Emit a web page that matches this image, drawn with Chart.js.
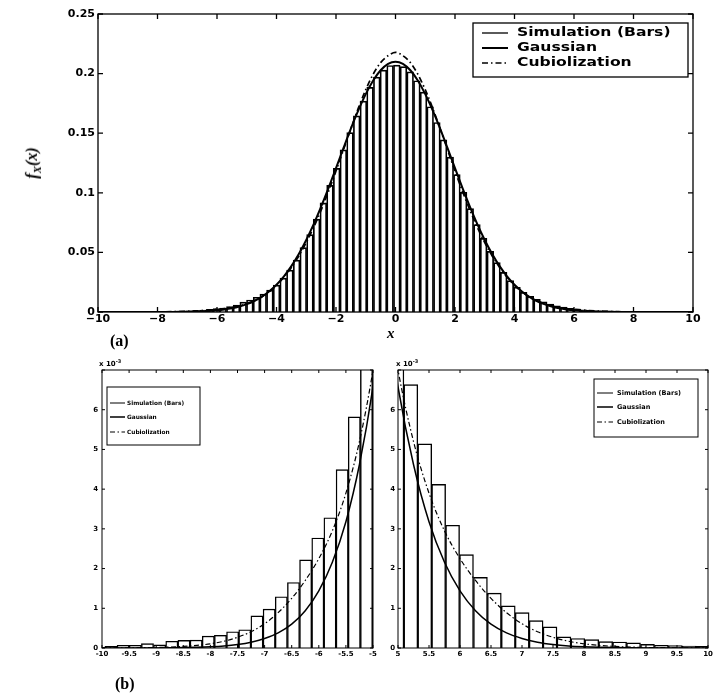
<!DOCTYPE html>
<html>
<head>
<meta charset="utf-8">
<script src="https://cdn.jsdelivr.net/npm/chart.js@4.4.0/dist/chart.umd.min.js"></script>
<style>
  body { margin: 0; background: #fff; width: 717px; height: 695px; overflow: hidden; position: relative; }
  canvas { position: absolute; }
  .lbl { position: absolute; color: #000; white-space: nowrap; line-height: 1; }
</style>
</head>
<body>
<canvas id="full" width="717" height="335" style="left:0;top:0"></canvas>
<canvas id="tailLeft" width="345" height="315" style="left:40px;top:355px"></canvas>
<canvas id="tailRight" width="337" height="315" style="left:380px;top:355px"></canvas>

<div class="lbl" style="left:33px;top:163px;transform:translate(-50%,-50%) rotate(-90deg);font:italic bold 16px 'Liberation Serif'">f<sub style="font-size:11px">X</sub>(x)</div>
<div class="lbl" style="left:387px;top:325px;font:italic bold 15px 'Liberation Serif'">x</div>
<div class="lbl" style="left:110px;top:332px;font:bold 16px 'Liberation Serif'">(a)</div>
<div class="lbl" style="left:115px;top:675px;font:bold 16px 'Liberation Serif'">(b)</div>
<div class="lbl" style="left:99px;top:358px;font:bold 7px 'DejaVu Sans'">x 10<sup style="font-size:5px">-3</sup></div>
<div class="lbl" style="left:396px;top:358px;font:bold 7px 'DejaVu Sans'">x 10<sup style="font-size:5px">-3</sup></div>

<script>
// Du lieu -------------------------------------------------------------
// tam cac cot histogram (mo phong)
const binCenters = [
  -9.835, -9.610, -9.386, -9.161, -8.937, -8.712, -8.488, -8.263, -8.039, -7.814,
  -7.590, -7.365, -7.141, -6.916, -6.692, -6.467, -6.243, -6.018, -5.794, -5.569,
  -5.345, -5.120, -4.896, -4.671, -4.447, -4.222, -3.998, -3.773, -3.549, -3.324,
  -3.100, -2.875, -2.651, -2.426, -2.202, -1.977, -1.753, -1.528, -1.304, -1.079,
  -0.855, -0.630, -0.406, -0.181, 0.044, 0.268, 0.493, 0.717, 0.942, 1.166,
  1.391, 1.615, 1.840, 2.064, 2.289, 2.513, 2.738, 2.962, 3.187, 3.411,
  3.636, 3.860, 4.085, 4.309, 4.534, 4.758, 4.983, 5.207, 5.432, 5.656,
  5.881, 6.105, 6.330, 6.554, 6.779, 7.003, 7.228, 7.452, 7.677, 7.901,
  8.126, 8.350, 8.575, 8.799, 9.024, 9.248, 9.473, 9.697, 9.922
];
// chieu cao cac cot
const simBars = [
  0.00004, 0.00007, 0.00007, 0.00011, 0.00008, 0.00017, 0.00019, 0.00020, 0.00030, 0.00032,
  0.00041, 0.00046, 0.00081, 0.00098, 0.00129, 0.00165, 0.00222, 0.00277, 0.00328, 0.00449,
  0.00582, 0.0083, 0.0101, 0.0124, 0.0150, 0.0184, 0.0226, 0.0284, 0.0352, 0.0436,
  0.0540, 0.0650, 0.0780, 0.0915, 0.1062, 0.1205, 0.1360, 0.1505, 0.1645, 0.1770,
  0.1885, 0.1970, 0.2030, 0.2068, 0.2072, 0.2058, 0.2015, 0.1940, 0.1845, 0.1722,
  0.1590, 0.1445, 0.1300, 0.1153, 0.1004, 0.0868, 0.0734, 0.0618, 0.0508, 0.0414,
  0.0332, 0.0264, 0.0208, 0.0165, 0.0132, 0.0106, 0.0086, 0.00663, 0.00514, 0.00412,
  0.00309, 0.00235, 0.00178, 0.00138, 0.00106, 0.00089, 0.00069, 0.00053, 0.00028, 0.00024,
  0.00021, 0.00016, 0.00015, 0.00013, 0.00009, 0.00007, 0.00006, 0.00005, 0.00004
];
// luoi x cho hai duong cong
const curveX = [
  -10, -9.75, -9.5, -9.25, -9, -8.75, -8.5, -8.25, -8, -7.75,
  -7.5, -7.25, -7, -6.75, -6.5, -6.25, -6, -5.75, -5.5, -5.25,
  -5, -4.75, -4.5, -4.25, -4, -3.75, -3.5, -3.25, -3, -2.75,
  -2.5, -2.25, -2, -1.75, -1.5, -1.25, -1, -0.75, -0.5, -0.25,
  0,
  0.25, 0.5, 0.75, 1, 1.25, 1.5, 1.75, 2, 2.25, 2.5,
  2.75, 3, 3.25, 3.5, 3.75, 4, 4.25, 4.5, 4.75, 5,
  5.25, 5.5, 5.75, 6, 6.25, 6.5, 6.75, 7, 7.25, 7.5,
  7.75, 8, 8.25, 8.5, 8.75, 9, 9.25, 9.5, 9.75, 10
];
const gaussY = [
  0.0000002, 0.0000004, 0.0000008, 0.0000015, 0.0000028, 0.000005, 0.0000095, 0.000017, 0.00003, 0.000051,
  0.000087, 0.000145, 0.00024, 0.00038, 0.0006, 0.00094, 0.00144, 0.00216, 0.00318, 0.00462,
  0.00658, 0.00923, 0.01271, 0.01721, 0.0229, 0.02995, 0.0385, 0.0486, 0.0604, 0.0737,
  0.0884, 0.1041, 0.1207, 0.1374, 0.1538, 0.1691, 0.1828, 0.1942, 0.2028, 0.2082,
  0.2100,
  0.2082, 0.2028, 0.1942, 0.1828, 0.1691, 0.1538, 0.1374, 0.1207, 0.1041, 0.0884,
  0.0737, 0.0604, 0.0486, 0.0385, 0.02995, 0.0229, 0.01721, 0.01271, 0.00923, 0.00658,
  0.00462, 0.00318, 0.00216, 0.00144, 0.00094, 0.0006, 0.00038, 0.00024, 0.000145, 0.000087,
  0.000051, 0.00003, 0.000017, 0.0000095, 0.000005, 0.0000028, 0.0000015, 0.0000008, 0.0000004, 0.0000002
];
const cubY = [
  0.0000015, 0.000003, 0.000005, 0.000009, 0.000014, 0.000024, 0.00004, 0.000065, 0.000105, 0.00017,
  0.00027, 0.00041, 0.00061, 0.00089, 0.00125, 0.0017, 0.00225, 0.00295, 0.0039, 0.0052,
  0.0070, 0.0094, 0.0126, 0.0169, 0.0224, 0.0292, 0.0374, 0.0470, 0.0582, 0.0710,
  0.0855, 0.1013, 0.1183, 0.1360, 0.1538, 0.1710, 0.1865, 0.1995, 0.2092, 0.2150,
  0.2178,
  0.2150, 0.2092, 0.1995, 0.1865, 0.1710, 0.1538, 0.1360, 0.1183, 0.1013, 0.0855,
  0.0710, 0.0582, 0.0470, 0.0374, 0.0292, 0.0224, 0.0169, 0.0126, 0.0094, 0.0070,
  0.0052, 0.0039, 0.00295, 0.00225, 0.0017, 0.00125, 0.00089, 0.00061, 0.00041, 0.00027,
  0.00017, 0.000105, 0.000065, 0.00004, 0.000024, 0.000014, 0.000009, 0.000005, 0.000003, 0.0000015
];
const legendLabels = ['Simulation (Bars)', 'Gaussian', 'Cubiolization'];

function toPoints(xs, ys) {
  return xs.map((x, i) => ({ x: x, y: ys[i] }));
}

// Khung + vach chia huong vao trong (kieu MATLAB)
const framePlugin = {
  id: 'frame',
  afterDatasetsDraw(chart, args, opts) {
    const { ctx, chartArea: a } = chart;
    const xs = chart.scales.x, ys = chart.scales.y;
    const len = opts.tickLen;
    ctx.save();
    ctx.strokeStyle = '#000';
    ctx.lineWidth = opts.lineWidth;
    ctx.strokeRect(a.left, a.top, a.right - a.left, a.bottom - a.top);
    ctx.beginPath();
    xs.ticks.forEach(t => {
      const px = xs.getPixelForValue(t.value);
      ctx.moveTo(px, a.bottom); ctx.lineTo(px, a.bottom - len);
      ctx.moveTo(px, a.top); ctx.lineTo(px, a.top + len);
    });
    ys.ticks.forEach(t => {
      const py = ys.getPixelForValue(t.value);
      ctx.moveTo(a.left, py); ctx.lineTo(a.left + len, py);
      ctx.moveTo(a.right, py); ctx.lineTo(a.right - len, py);
    });
    ctx.stroke();
    ctx.restore();
  }
};

// Chu giai dat trong vung ve
const boxLegendPlugin = {
  id: 'boxLegend',
  afterDraw(chart, args, o) {
    const ctx = chart.ctx;
    ctx.save();
    ctx.fillStyle = '#fff';
    ctx.fillRect(o.x, o.y, o.w, o.h);
    ctx.strokeStyle = '#000';
    ctx.lineWidth = o.boxWidth;
    ctx.strokeRect(o.x, o.y, o.w, o.h);
    chart.data.datasets.forEach((ds, i) => {
      const y = o.rows[i];
      ctx.beginPath();
      ctx.lineWidth = ds.type === 'bar' ? o.thin : ds.borderWidth;
      ctx.setLineDash(ds.borderDash || []);
      ctx.moveTo(o.lineX[0], y);
      ctx.lineTo(o.lineX[1], y);
      ctx.stroke();
      ctx.setLineDash([]);
      ctx.fillStyle = '#000';
      ctx.font = o.font;
      ctx.textBaseline = 'middle';
      ctx.save();
      ctx.translate(o.textX, y);
      ctx.scale(o.scaleX, 1);
      ctx.fillText(ds.label, 0, 0);
      ctx.restore();
    });
    ctx.restore();
  }
};

function boldFont(size) {
  return { family: 'DejaVu Sans', weight: 'bold', size: size };
}

function makeChart(canvasId, c) {
  return new Chart(document.getElementById(canvasId), {
    type: 'bar',
    data: {
      datasets: [
        {
          type: 'bar', label: legendLabels[0], data: toPoints(binCenters, simBars),
          backgroundColor: '#fff', borderColor: '#000', borderWidth: c.barBorder,
          borderSkipped: 'start', barPercentage: 1, categoryPercentage: 1, order: 3
        },
        {
          type: 'line', label: legendLabels[1], data: toPoints(curveX, gaussY),
          borderColor: '#000', borderWidth: c.gaussWidth, pointRadius: 0,
          cubicInterpolationMode: 'monotone', fill: false, order: 1
        },
        {
          type: 'line', label: legendLabels[2], data: toPoints(curveX, cubY),
          borderColor: '#000', borderWidth: c.cubWidth, borderDash: c.cubDash, pointRadius: 0,
          cubicInterpolationMode: 'monotone', fill: false, order: 2
        }
      ]
    },
    options: {
      responsive: false,
      animation: false,
      devicePixelRatio: 1,
      events: [],
      layout: { padding: c.padding },
      plugins: {
        legend: { display: false },
        tooltip: { enabled: false },
        frame: c.frame,
        boxLegend: c.legend
      },
      scales: {
        x: {
          type: 'linear', min: c.xMin, max: c.xMax, offset: false,
          grid: { display: false, drawTicks: false, offset: false },
          border: { display: false },
          ticks: {
            stepSize: c.xStep, autoSkip: false, maxRotation: 0, padding: c.xPad,
            color: '#000', font: boldFont(c.fontSize), callback: c.xLabel
          },
          afterFit: s => { s.height = c.xHeight; }
        },
        y: {
          type: 'linear', min: 0, max: c.yMax,
          grid: { display: false, drawTicks: false },
          border: { display: false },
          ticks: {
            stepSize: c.yStep, autoSkip: false, padding: c.yPad,
            color: '#000', font: boldFont(c.fontSize), callback: c.yLabel
          },
          afterFit: s => { s.width = c.yWidth; }
        }
      }
    },
    plugins: [framePlugin, boxLegendPlugin]
  });
}

// (a) toan bo phan bo
makeChart('full', {
  padding: { left: 0, top: 14, right: 24, bottom: 0 },
  barBorder: 1.7, gaussWidth: 2, cubWidth: 1.7, cubDash: [6, 3, 1.5, 3],
  xMin: -10, xMax: 10, xStep: 2, yMax: 0.25, yStep: 0.05,
  xPad: 1, yPad: 3, xHeight: 23, yWidth: 98, fontSize: 11,
  xLabel: v => (v < 0 ? '\u2212' + Math.abs(v) : String(v)),
  yLabel: v => String(+v.toFixed(2)),
  frame: { lineWidth: 1.3, tickLen: 5 },
  legend: {
    x: 473, y: 23, w: 215, h: 54, boxWidth: 1.3, thin: 1.3,
    rows: [33, 48, 63], lineX: [482, 508], textX: 517,
    font: 'bold 13px "DejaVu Sans"', scaleX: 1.2
  }
});

// (b) duoi trai
makeChart('tailLeft', {
  padding: { left: 0, top: 15, right: 12, bottom: 0 },
  barBorder: 1.4, gaussWidth: 1.5, cubWidth: 1.2, cubDash: [5, 2.5, 1.5, 2.5],
  xMin: -10, xMax: -5, xStep: 0.5, yMax: 0.007, yStep: 0.001,
  xPad: 2, yPad: 4, xHeight: 22, yWidth: 62, fontSize: 7,
  xLabel: v => String(+v.toFixed(1)),
  yLabel: v => (v > 0.0065 ? '' : String(Math.round(v * 1000))),
  frame: { lineWidth: 1, tickLen: 3 },
  legend: {
    x: 67, y: 32, w: 93, h: 58, boxWidth: 1, thin: 1,
    rows: [48, 62, 77], lineX: [70, 85], textX: 87,
    font: 'bold 5.8px "DejaVu Sans"', scaleX: 1
  }
});

// (b) duoi phai
makeChart('tailRight', {
  padding: { left: 0, top: 15, right: 9, bottom: 0 },
  barBorder: 1.4, gaussWidth: 1.5, cubWidth: 1.2, cubDash: [5, 2.5, 1.5, 2.5],
  xMin: 5, xMax: 10, xStep: 0.5, yMax: 0.007, yStep: 0.001,
  xPad: 2, yPad: 3, xHeight: 22, yWidth: 18, fontSize: 7,
  xLabel: v => String(+v.toFixed(1)),
  yLabel: v => (v > 0.0065 ? '' : String(Math.round(v * 1000))),
  frame: { lineWidth: 1, tickLen: 3 },
  legend: {
    x: 214, y: 24, w: 104, h: 58, boxWidth: 1, thin: 1,
    rows: [38, 52, 67], lineX: [217, 233], textX: 237,
    font: 'bold 6.5px "DejaVu Sans"', scaleX: 1
  }
});
</script>
</body>
</html>
